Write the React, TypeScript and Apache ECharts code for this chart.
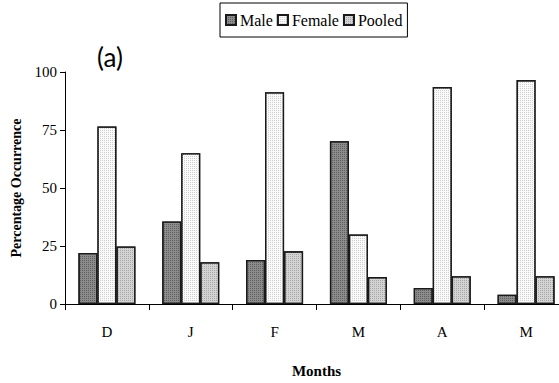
import React, { useEffect, useRef } from "react";
import * as echarts from "echarts";

const months = ["D", "J", "F", "M", "A", "M"];
const male = [22, 35.6, 19, 70.2, 6.9, 4];
const female = [76.5, 65, 91.3, 30, 93.5, 96.5];
const pooled = [24.8, 18, 22.7, 11.6, 12, 12];
const yTicks = [0, 25, 50, 75, 100];

const serif = "Liberation Serif";

export default function App() {
  const ref = useRef<HTMLDivElement>(null);
  useEffect(() => {
    if (!ref.current) return;
    const chart = echarts.init(ref.current, null, { renderer: "svg" });
    const barStyle = (color: string, dot: string) => ({
      color,
      borderColor: "#1a1a1a",
      borderWidth: 1.3,
      decal: {
        symbol: "rect",
        symbolSize: 1,
        color: dot,
        dashArrayX: [1, 1],
        dashArrayY: [1, 1],
        rotation: 0,
      },
    });
    chart.setOption({
      animation: false,
      backgroundColor: "#ffffff",
      textStyle: { fontFamily: serif },
      legend: {
        data: ["Male", "Female", "Pooled"],
        left: 220,
        top: 3,
        orient: "horizontal",
        borderColor: "#000",
        borderWidth: 1,
        borderRadius: 0,
        backgroundColor: "#fff",
        padding: [9, 5, 9, 5],
        itemGap: 4,
        itemWidth: 10,
        itemHeight: 10,
        icon: "rect",
        textStyle: { fontFamily: serif, fontSize: 16, color: "#000", padding: [0, 0, 0, -1] },
      },
      graphic: [
        {
          type: "text",
          left: 97,
          top: 44,
          style: { text: "(a)", fontFamily: "Lato", fontSize: 26, fill: "#000" },
        },
      ],
      grid: { left: 65, right: 0, top: 72, bottom: 71, containLabel: false },
      xAxis: {
        type: "category",
        data: months,
        name: "Months",
        nameLocation: "middle",
        nameGap: 59,
        nameTextStyle: { fontFamily: serif, fontSize: 15, fontWeight: "bold", color: "#000" },
        axisLine: { show: true, lineStyle: { color: "#000", width: 1 } },
        axisTick: { show: true, alignWithLabel: false, length: 6, lineStyle: { color: "#000" } },
        axisLabel: { fontFamily: serif, fontSize: 15, color: "#000", margin: 20 },
        splitLine: { show: false },
      },
      yAxis: {
        type: "value",
        min: yTicks[0],
        max: yTicks[yTicks.length - 1],
        interval: 25,
        name: "Percentage Occurrence",
        nameLocation: "middle",
        nameGap: 42,
        nameTextStyle: { fontFamily: serif, fontSize: 14, fontWeight: "bold", color: "#000" },
        axisLine: { show: true, lineStyle: { color: "#000", width: 1 } },
        axisTick: { show: true, length: 5, lineStyle: { color: "#000" } },
        axisLabel: { fontFamily: serif, fontSize: 15, color: "#000", margin: 8 },
        splitLine: { show: false },
      },
      series: [
        {
          name: "Male",
          type: "bar",
          data: male,
          barWidth: 19,
          barGap: "0%",
          itemStyle: barStyle("#8c8c8c", "#5e5e5e"),
        },
        {
          name: "Female",
          type: "bar",
          data: female,
          barWidth: 19,
          barGap: "0%",
          itemStyle: barStyle("#fafafa", "#cfcfcf"),
        },
        {
          name: "Pooled",
          type: "bar",
          data: pooled,
          barWidth: 19,
          barGap: "0%",
          itemStyle: barStyle("#d4d4d4", "#a6a6a6"),
        },
      ],
    });
    return () => chart.dispose();
  }, []);
  return (
    <div
      ref={ref}
      style={{ position: "fixed", left: 0, top: 0, width: 568, height: 383 }}
    />
  );
}
